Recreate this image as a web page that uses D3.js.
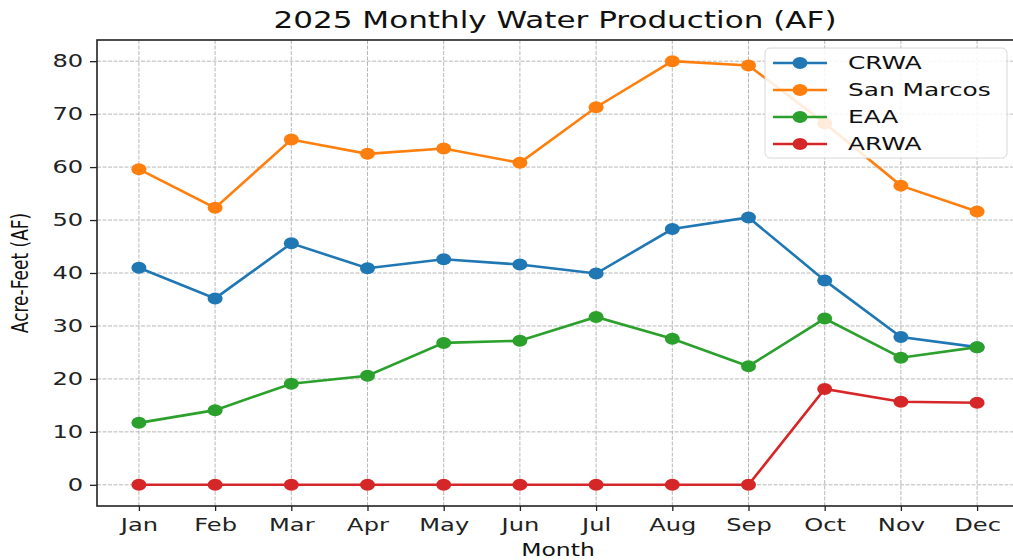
<!doctype html>
<html lang="en">
<head>
<meta charset="utf-8">
<title>2025 Monthly Water Production</title>
<script src="https://d3js.org/d3.v7.min.js"></script>
<style>
    body { margin: 0; background: #fff; }
    svg { display: block; font-family: "DejaVu Sans", sans-serif; }
</style>
</head>
<body>
<script>
    const months = ["Jan", "Feb", "Mar", "Apr", "May", "Jun", "Jul", "Aug", "Sep", "Oct", "Nov", "Dec"]
    const seriesNames = ["CRWA", "San Marcos", "EAA", "ARWA"]
    const crwa = [41.0, 35.2, 45.6, 40.9, 42.6, 41.6, 39.9, 48.3, 50.5, 38.6, 27.9, 26.0]
    const sanMarcos = [59.6, 52.3, 65.2, 62.5, 63.5, 60.8, 71.3, 80.0, 79.2, 68.3, 56.5, 51.6]
    const eaa = [11.7, 14.1, 19.1, 20.6, 26.8, 27.2, 31.7, 27.6, 22.4, 31.4, 24.0, 26.0]
    const arwa = [0, 0, 0, 0, 0, 0, 0, 0, 0, 18.1, 15.7, 15.5]
    const yTicks = [0, 10, 20, 30, 40, 50, 60, 70, 80]
    const colors = ["#1f77b4", "#ff7f0e", "#2ca02c", "#d62728"]

    const width = 1013, height = 560
    const plotLeft = 97, plotRight = 1019, plotTop = 40, plotBottom = 506
    const sx = 1.38 // the picture is stretched sideways

    const series = [crwa, sanMarcos, eaa, arwa].map((v, i) => ({ name: seriesNames[i], values: v, color: colors[i] }))

    const x = d3.scalePoint().domain(months).range([plotLeft, plotRight]).padding(0.55)
    const y = d3.scaleLinear().domain([-4, 84]).range([plotBottom, plotTop])

    const svg = d3.select("body").append("svg")
        .attr("width", width)
        .attr("height", height)

    svg.append("rect").attr("width", width).attr("height", height).attr("fill", "#fff")

    // grid
    const grid = svg.append("g").attr("stroke", "#b8b8b8").attr("stroke-width", 1).attr("stroke-dasharray", "4,1.5")
    grid.selectAll(".vg").data(months).join("line").attr("class", "vg")
        .attr("x1", d => x(d)).attr("x2", d => x(d)).attr("y1", plotTop).attr("y2", plotBottom)
    grid.selectAll(".hg").data(yTicks).join("line").attr("class", "hg")
        .attr("x1", plotLeft).attr("x2", plotRight).attr("y1", d => y(d)).attr("y2", d => y(d))

    // lines and markers
    const line = d3.line().x((d, i) => x(months[i])).y(d => y(d))
    const sg = svg.append("g").selectAll("g").data(series).join("g")
    sg.append("path")
        .attr("d", d => line(d.values))
        .attr("fill", "none")
        .attr("stroke", d => d.color)
        .attr("stroke-width", 2.6)
    sg.selectAll("ellipse").data(d => d.values.map(v => ({ v, c: d.color }))).join("ellipse")
        .attr("cx", (d, i) => x(months[i]))
        .attr("cy", d => y(d.v))
        .attr("rx", 7.5).attr("ry", 6)
        .attr("fill", d => d.c)

    // axes
    const xAxis = svg.append("g").attr("transform", `translate(0,${plotBottom})`)
        .call(d3.axisBottom(x).tickSize(5).tickPadding(8))
    xAxis.select(".domain").remove()
    xAxis.selectAll("line").attr("stroke", "#222").attr("stroke-width", 1.3)
    xAxis.selectAll("text")
        .attr("font-size", 17.5).attr("fill", "#222")
        .attr("font-family", "DejaVu Sans")
        .attr("transform", `scale(${sx},1)`)

    const yAxis = svg.append("g").attr("transform", `translate(${plotLeft},0)`)
        .call(d3.axisLeft(y).tickValues(yTicks).tickSize(7).tickPadding(3))
    yAxis.select(".domain").remove()
    yAxis.selectAll("line").attr("stroke", "#222").attr("stroke-width", 1.3)
    yAxis.selectAll("text")
        .attr("font-size", 17.5).attr("fill", "#222")
        .attr("font-family", "DejaVu Sans")
        .attr("transform", `scale(${sx},1)`)

    // spines
    svg.append("rect")
        .attr("x", plotLeft).attr("y", plotTop)
        .attr("width", plotRight - plotLeft).attr("height", plotBottom - plotTop)
        .attr("fill", "none").attr("stroke", "#222").attr("stroke-width", 1.6)

    // titles
    svg.append("text")
        .attr("transform", `translate(${(plotLeft + plotRight) / 2 - 3},28) scale(${sx},1)`)
        .attr("text-anchor", "middle")
        .attr("font-size", 22.5).attr("fill", "#111")
        .text("2025 Monthly Water Production (AF)")

    svg.append("text")
        .attr("transform", `translate(${(plotLeft + plotRight) / 2},556) scale(${sx},1)`)
        .attr("text-anchor", "middle")
        .attr("font-size", 17).attr("fill", "#111")
        .text("Month")

    svg.append("text")
        .attr("transform", `translate(28,273) scale(${sx},1) rotate(-90)`)
        .attr("text-anchor", "middle")
        .attr("font-size", 17).attr("fill", "#111")
        .text("Acre-Feet (AF)")

    // legend
    const lg = svg.append("g")
    lg.append("rect")
        .attr("x", 765).attr("y", 48).attr("width", 242).attr("height", 110)
        .attr("rx", 5).attr("fill", "#fff").attr("fill-opacity", 0.85)
        .attr("stroke", "#d8d8d8").attr("stroke-width", 1)
    const items = lg.selectAll(".item").data(series).join("g").attr("class", "item")
        .attr("transform", (d, i) => `translate(0,${63 + i * 27})`)
    items.append("line")
        .attr("x1", 773).attr("x2", 827)
        .attr("stroke", d => d.color).attr("stroke-width", 2.6)
    items.append("ellipse")
        .attr("cx", 800).attr("rx", 7.5).attr("ry", 6)
        .attr("fill", d => d.color)
    items.append("text")
        .attr("transform", `translate(848,0) scale(${sx},1)`)
        .attr("dy", "0.35em")
        .attr("font-size", 18).attr("fill", "#111")
        .text(d => d.name)
</script>
</body>
</html>
